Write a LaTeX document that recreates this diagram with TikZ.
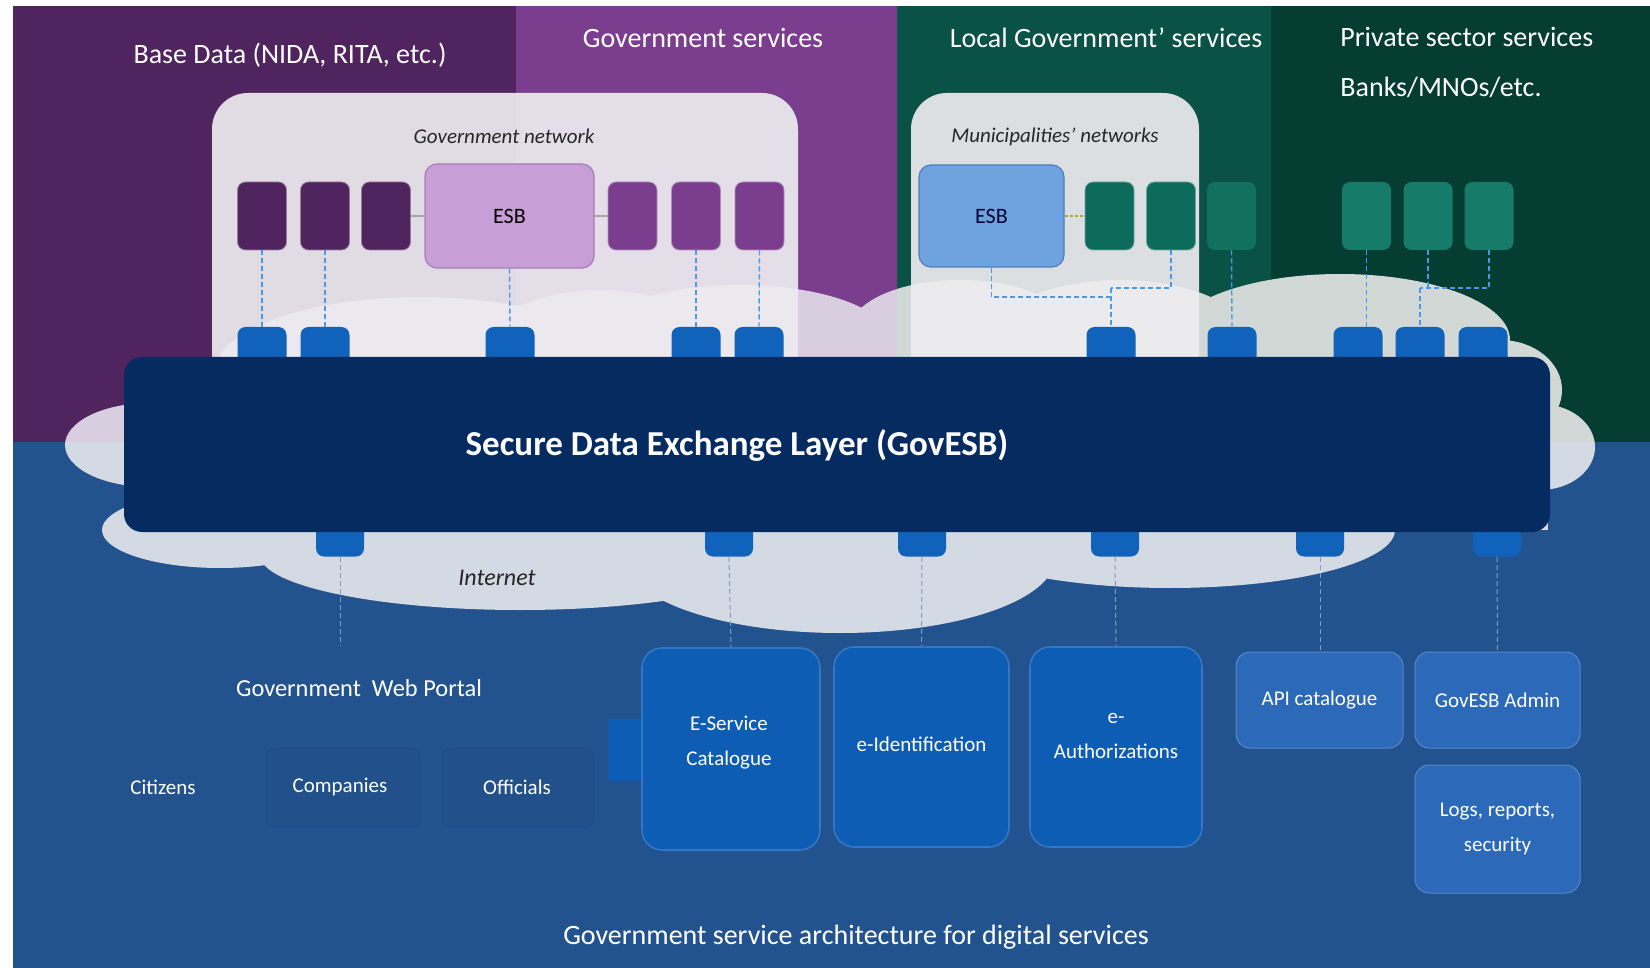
\documentclass[tikz,border=0pt]{standalone}
\usepackage{fontspec}
\setmainfont{Carlito}
\definecolor{basep}{HTML}{50245F}
\definecolor{govp}{HTML}{7B3E8E}
\definecolor{locg}{HTML}{0A5146}
\definecolor{privg}{HTML}{053D33}
\definecolor{bgb}{HTML}{23538E}
\definecolor{barc}{HTML}{052B60}
\definecolor{tabc}{HTML}{1162BA}
\definecolor{cloudP}{HTML}{D9CEDF}
\definecolor{cloudG}{HTML}{D2D8D6}
\definecolor{cloudB}{HTML}{D3DAE3}
\definecolor{panelc}{HTML}{EEECF0}
\definecolor{esbp}{HTML}{C79ED5}
\definecolor{esbpb}{HTML}{A77DB8}
\definecolor{esbb}{HTML}{6FA3E0}
\definecolor{esbbb}{HTML}{4A7DBF}
\definecolor{teal1}{HTML}{0D6B5B}
\definecolor{teal2}{HTML}{167B68}
\definecolor{bigc}{HTML}{0E5DB4}
\definecolor{bigd}{HTML}{3377C6}
\definecolor{smc}{HTML}{2C69B9}
\definecolor{linec}{HTML}{4C98E8}
\definecolor{linec2}{HTML}{7E9CC4}
\definecolor{faintd}{HTML}{1F4C85}
\definecolor{faintf}{HTML}{21508A}
\newcommand\mycloudfill[1]{%
  \fill[#1] (150,445) ellipse [x radius=85, y radius=42];
  \fill[#1] (220,530) ellipse [x radius=118, y radius=38];
  \fill[#1] (520,555) ellipse [x radius=260, y radius=55];
  \fill[#1] (840,558) ellipse [x radius=215, y radius=75];
  \fill[#1] (1170,530) ellipse [x radius=225, y radius=58];
  \fill[#1] (1500,390) ellipse [x radius=62, y radius=50];
  \fill[#1] (1540,447) ellipse [x radius=55, y radius=43];
  \fill[#1] (1340,340) ellipse [x radius=170, y radius=66];
  \fill[#1] (1120,340) ellipse [x radius=130, y radius=60];
  \fill[#1] (960,330) ellipse [x radius=110, y radius=50];
  \fill[#1] (740,340) ellipse [x radius=150, y radius=55];
  \fill[#1] (600,355) ellipse [x radius=120, y radius=65];
  \fill[#1] (420,372) ellipse [x radius=205, y radius=75];
  \fill[#1] (130,400) rectangle (1548,530);
}
\begin{document}
\begin{tikzpicture}[x=0.5pt,y=-0.5pt,
  sq/.style={rounded corners=4pt, minimum width=24.5pt, minimum height=34pt, inner sep=0pt},
  tabt/.style={fill=tabc, rounded corners=4pt, minimum width=24.5pt, minimum height=19pt, inner sep=0pt},
  tabb/.style={fill=tabc, rounded corners=4pt, minimum width=24pt, minimum height=18.5pt, inner sep=0pt},
  dl/.style={draw=linec, line width=0.7pt, dash pattern=on 2.5pt off 1.5pt},
  dlb/.style={draw=linec2, line width=0.5pt, dash pattern=on 2.5pt off 1.5pt},
  sect/.style={text=white, font=\fontsize{14}{24.7}\selectfont, inner sep=0pt},
  netlbl/.style={text=black!85, font=\itshape\fontsize{10.5}{12}\selectfont, inner sep=0pt},
  esbtxt/.style={font=\fontsize{11}{13}\selectfont},
  bigbox/.style={fill=bigc, draw=bigd, line width=0.8pt, rounded corners=10pt, inner sep=0pt},
  smbox/.style={fill=smc, draw=smc!80!white, line width=0.5pt, rounded corners=7pt, inner sep=0pt},
  btxt/.style={text=white, font=\fontsize{10.5}{17.5}\selectfont, align=center, inner sep=0pt},
  panel/.style={fill=panelc, fill opacity=0.92, rounded corners=18pt},
  fbox/.style={draw=faintd, fill=faintf, line width=0.4pt, rounded corners=4pt, minimum height=39.5pt, inner sep=0pt}
]
\useasboundingbox (0,0) rectangle (1650,968);
\fill[white] (0,0) rectangle (1650,968);
% sections
\fill[basep] (13,6) rectangle (516,442);
\fill[govp] (516,6) rectangle (897,442);
\fill[locg] (897,6) rectangle (1271,442);
\fill[privg] (1271,6) rectangle (1650,442);
\fill[bgb] (13,442) rectangle (1650,968);
% cloud
\begin{scope}
  \clip (0,0) rectangle (897,442);
  \mycloudfill{cloudP}
\end{scope}
\begin{scope}
  \clip (897,0) rectangle (1650,442);
  \mycloudfill{cloudG}
\end{scope}
\begin{scope}
  \clip (0,442) rectangle (1650,968);
  \mycloudfill{cloudB}
\end{scope}
% section titles
\node[sect] (tbase) at (290,55) {Base Data (NIDA, RITA, etc.)};
\node[sect] (tgov) at (703,38) {Government services};
\node[sect] (tloc) at (1106,38) {Local Government’ services};
\node[sect, anchor=west, align=left] (tpriv) at (1340,62.5) {Private sector services\\Banks/MNOs/etc.};
% network panels (bottom hidden behind the exchange layer)
\begin{scope}
  \clip (0,0) rectangle (1650,358);
  \fill[panel] (212,93) rectangle (798,430);
  \fill[panel] (911,93) rectangle (1199,430);
\end{scope}
\node[netlbl] (gnet) at (504,136) {Government network};
\node[netlbl] (mnet) at (1055,137) {Municipalities’ networks};
% government network systems
\node[sq, fill=basep, draw=basep!60!white, line width=0.4pt] (g1) at (262,216) {};
\node[sq, fill=basep, draw=basep!60!white, line width=0.4pt] (g2) at (325,216) {};
\node[sq, fill=basep, draw=basep!60!white, line width=0.4pt] (g3) at (386,216) {};
\node[sq, fill=esbp, draw=esbpb, line width=0.6pt, minimum width=84.5pt, minimum height=52pt, rounded corners=6pt] (gesb) at (509.5,216) {};
\node[esbtxt, text=black] (gesbt) at (gesb) {ESB};
\node[sq, fill=govp, draw=govp!60!white, line width=0.4pt] (g4) at (632.5,216) {};
\node[sq, fill=govp, draw=govp!60!white, line width=0.4pt] (g5) at (696,216) {};
\node[sq, fill=govp, draw=govp!60!white, line width=0.4pt] (g6) at (759.5,216) {};
\draw[gray!70, line width=0.6pt] (g3.east) -- (gesb.west);
\draw[gray!70, line width=0.6pt] (gesb.east) -- (g4.west);
% municipality systems
\node[sq, fill=esbb, draw=esbbb, line width=0.6pt, minimum width=72.5pt, minimum height=51pt, rounded corners=6pt] (mesb) at (991.5,216) {};
\node[esbtxt, text=black!80!blue] (mesbt) at (mesb) {ESB};
\node[sq, fill=teal1, draw=teal1!60!white, line width=0.4pt] (m1) at (1109.5,216) {};
\node[sq, fill=teal1, draw=teal1!60!white, line width=0.4pt] (m2) at (1171,216) {};
\node[sq, fill=teal2, fill opacity=0.75] (m3) at (1231.5,216) {};
\draw[olive!70, line width=0.6pt, dash pattern=on 1.5pt off 1pt] (mesb.east) -- (m1.west);
% private systems
\node[sq, fill=teal2] (p1) at (1366.5,216) {};
\node[sq, fill=teal2] (p2) at (1428,216) {};
\node[sq, fill=teal2] (p3) at (1489,216) {};
% top tabs
\node[tabt] (t1) at (262,346) {};
\node[tabt] (t2) at (325,346) {};
\node[tabt] (t3) at (510,346) {};
\node[tabt] (t4) at (696,346) {};
\node[tabt] (t5) at (759,346) {};
\node[tabt] (t6) at (1111,346) {};
\node[tabt] (t7) at (1232,346) {};
\node[tabt] (t8) at (1358,346) {};
\node[tabt] (t9) at (1420,346) {};
\node[tabt] (t10) at (1483,346) {};
% top connectors
\draw[dl] (g1.south) -- (t1.north);
\draw[dl] (g2.south) -- (t2.north);
\draw[dl] (gesb.south) -- (t3.north);
\draw[dl] (g5.south) -- (t4.north);
\draw[dl] (g6.south) -- (t5.north);
\coordinate (mj1) at (1111,297);
\coordinate (mj2) at (1111,288);
\draw[dl] (mesb.south) |- (mj1);
\draw[dl] (m2.south) |- (mj2);
\draw[dl] (mj2) -- (t6.north);
\draw[dl] (m3.south) -- (t7.north);
\draw[dl] (p1.south) -- (p1.south |- t8.north);
\coordinate (pj) at (1420,288);
\draw[dl] (p2.south) -- (p2.south |- pj);
\draw[dl] (p3.south) |- (pj);
\draw[dl] (pj) -- (t9.north);
% bottom tabs
\node[tabb] (b1) at (340,538) {};
\node[tabb] (b2) at (729,538) {};
\node[tabb] (b3) at (922,538) {};
\node[tabb] (b4) at (1115,538) {};
\node[tabb] (b5) at (1320,538) {};
\node[tabb] (b6) at (1497,538) {};
% exchange layer bar
\node[fill=barc, rounded corners=9pt, minimum width=713pt, minimum height=87.5pt, inner sep=0pt] (bar) at (837,444.5) {};
\node[text=white, font=\bfseries\fontsize{17.5}{21}\selectfont, inner sep=0pt] (title) at (737,445) {Secure Data Exchange Layer (GovESB)};
\node[text=black!85, font=\itshape\fontsize{12}{14}\selectfont, inner sep=0pt] (inet) at (497,578) {Internet};
% bottom area
\node[fill=bigc, minimum width=20.5pt, minimum height=31pt, inner sep=0pt] (estab) at (628,750) {};
\node[bigbox, minimum width=89pt, minimum height=101pt] (es) at (731,749) {};
\node[btxt] (est) at (729,743) {E-Service\\Catalogue};
\node[bigbox, minimum width=87.5pt, minimum height=100pt] (eid) at (921.5,747) {};
\node[btxt] (eidt) at (921.5,744) {e-Identification};
\node[bigbox, minimum width=86pt, minimum height=100pt] (eau) at (1116,747) {};
\node[btxt] (eaut) at (1116,736) {e-\\Authorizations};
\node[smbox, minimum width=83.5pt, minimum height=48pt] (api) at (1319.5,700) {};
\node[btxt] (apit) at (api) {API catalogue};
\node[smbox, minimum width=82.5pt, minimum height=48pt] (adm) at (1497.5,700) {};
\node[btxt] (admt) at (adm) {GovESB Admin};
\node[smbox, minimum width=82.5pt, minimum height=64pt] (logs) at (1497.5,829) {};
\node[btxt] (logst) at (logs) {Logs, reports,\\security};
\node[fbox, minimum width=77pt] (comp) at (343,787.5) {};
\node[fbox, minimum width=76pt] (off) at (518,787.5) {};
\node[btxt] (cit) at (163,787) {Citizens};
\node[btxt] (compt) at (340,787) {Companies};
\node[btxt] (offt) at (517,787) {Officials};
\node[text=white, font=\fontsize{12.2}{14}\selectfont, inner sep=0pt] (wp) at (359,688) {Government~~Web Portal};
\coordinate (wptop) at (340,645);
% bottom connectors
\draw[dlb] (b1.south) -- (wptop);
\draw[dlb] (b2.south) -- (es.north);
\draw[dlb] (b3.south) -- (eid.north);
\draw[dlb] (b4.south) -- (eau.north);
\draw[dlb] (b5.south) -- (b5.south |- api.north);
\draw[dlb] (b6.south) -- (adm.north);
% caption
\node[text=white, font=\fontsize{14}{17}\selectfont, inner sep=0pt] (cap) at (856,937) {Government service architecture for digital services};
\end{tikzpicture}
\end{document}
